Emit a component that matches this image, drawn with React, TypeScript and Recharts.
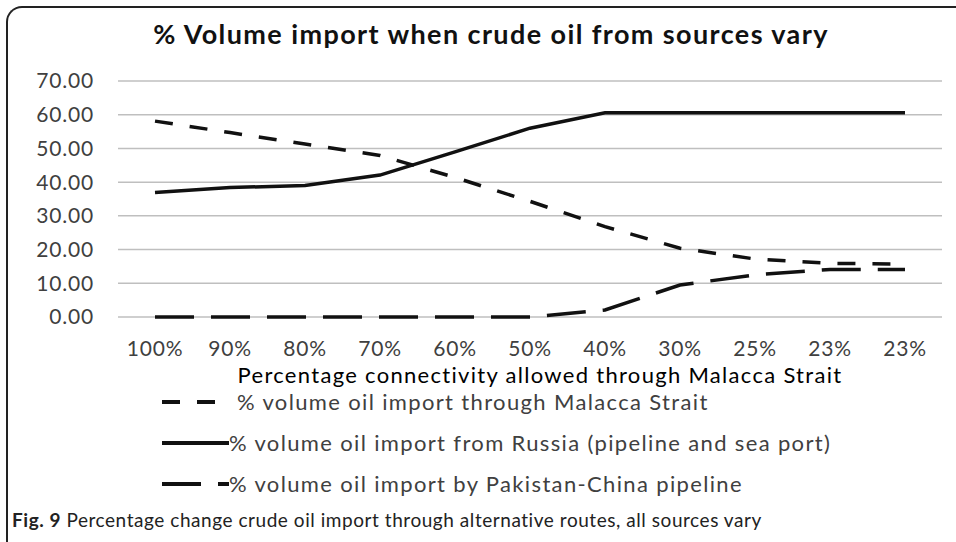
import React from "react";
import { CartesianGrid, Legend, Line, LineChart, XAxis, YAxis } from "recharts";

const connectivity = ["100%", "90%", "80%", "70%", "60%", "50%", "40%", "30%", "25%", "23%", "23%"];
const malaccaStrait = [58.1, 54.7, 51.3, 47.9, 41.4, 34.3, 26.8, 20.4, 17.2, 15.9, 15.7];
const russia = [36.9, 38.4, 39.0, 42.1, 49.0, 56.0, 60.6, 60.6, 60.6, 60.6, 60.6];
const pakistanChina = [0, 0, 0, 0, 0, 0, 2.1, 9.5, 12.5, 14.1, 14.1];
const yTicks = [0, 10, 20, 30, 40, 50, 60, 70];

const series = [
  { key: "malacca", name: "% volume oil import through Malacca Strait", dash: "18 17", iconLine: 53, iconBox: 75 },
  { key: "russia", name: "% volume oil import from Russia (pipeline and sea port)", dash: undefined, iconLine: 67, iconBox: 67 },
  { key: "pakistan", name: "% volume oil import by Pakistan-China pipeline", dash: "39 17", iconLine: 67, iconBox: 67 },
];

const data = connectivity.map((name, i) => ({
  name,
  malacca: malaccaStrait[i],
  russia: russia[i],
  pakistan: pakistanChina[i],
}));

const font = "Lato, sans-serif";

function LegendRows() {
  return (
    <div style={{ fontFamily: font }}>
      {series.map((s) => (
        <div key={s.key} style={{ display: "flex", alignItems: "center", height: 41 }}>
          <svg width={s.iconBox} height={10} style={{ flex: "none" }}>
            <line x1={0} y1={5} x2={s.iconLine} y2={5} stroke="#111" strokeWidth={4} strokeDasharray={s.dash} />
          </svg>
          <span style={{ fontSize: 22, color: "#404040", whiteSpace: "nowrap", letterSpacing: 1.35 }}>{s.name}</span>
        </div>
      ))}
    </div>
  );
}

export default function App() {
  return (
    <div style={{ position: "absolute", left: 0, top: 0, width: 956, height: 542, background: "#fff", overflow: "hidden", fontFamily: font }}>
      <div
        style={{
          position: "absolute",
          left: 6,
          top: 6,
          width: 1100,
          height: 700,
          borderTop: "2px solid #222",
          borderLeft: "2px solid #222",
          borderTopLeftRadius: 16,
        }}
      />
      <div style={{ position: "absolute", left: 0, width: 982, top: 17, textAlign: "center", fontSize: 27, fontWeight: 700, color: "#111", letterSpacing: 1.4 }}>
        % Volume import when crude oil from sources vary
      </div>
      <LineChart width={956} height={542} data={data} margin={{ top: 81, right: 14, left: 18, bottom: 155 }}>
        <CartesianGrid vertical={false} stroke="#bfbfbf" strokeWidth={1.5} />
        <XAxis
          dataKey="name"
          axisLine={false}
          tickLine={false}
          tickMargin={18}
          height={70}
          padding={{ left: 37, right: 37 }}
          tick={{ fontSize: 21, fill: "#404040", fontFamily: font, letterSpacing: 0.8 }}
          label={{ value: "Percentage connectivity allowed through Malacca Strait", position: "insideBottom", offset: 4, dx: 10, fontSize: 22, fill: "#000", fontFamily: font, letterSpacing: 1.3 }}
        />
        <YAxis
          width={100}
          domain={[0, 70]}
          ticks={yTicks}
          axisLine={false}
          tickLine={false}
          tickMargin={18}
          tickFormatter={(v: number) => v.toFixed(2)}
          tick={{ fontSize: 21, fill: "#404040", fontFamily: font, letterSpacing: 0.8 }}
        />
        <Legend
          layout="vertical"
          align="center"
          verticalAlign="middle"
          wrapperStyle={{ top: 381, left: 162, width: 780 }}
          content={() => <LegendRows />}
        />
        {series.map((s) => (
          <Line
            key={s.key}
            type="linear"
            dataKey={s.key}
            name={s.name}
            stroke="#111"
            strokeWidth={3.5}
            strokeDasharray={s.dash}
            dot={false}
            activeDot={false}
            isAnimationActive={false}
          />
        ))}
      </LineChart>
      <div style={{ position: "absolute", left: 12, top: 508, fontSize: 19, color: "#222", whiteSpace: "nowrap", letterSpacing: 0.55 }}>
        <b>Fig. 9</b> Percentage change crude oil import through alternative routes, all sources vary
      </div>
    </div>
  );
}
